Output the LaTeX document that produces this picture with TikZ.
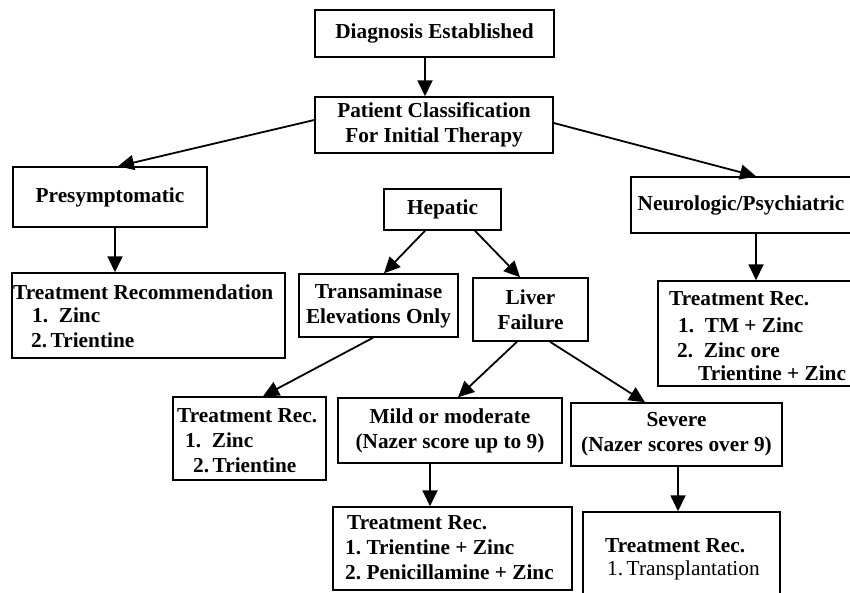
\documentclass[tikz,border=0pt]{standalone}
\usepackage{fontspec}
\setmainfont{Liberation Serif}
\usetikzlibrary{arrows.meta}
\begin{document}
\begin{tikzpicture}[x=1pt,y=-1pt,
  box/.style={draw, line width=1.5pt, inner sep=0pt, align=center, font=\bfseries\fontsize{21.3}{25}\selectfont},
  txt/.style={anchor=base west, inner sep=0pt, font=\bfseries\fontsize{21.3}{25}\selectfont},
  arr/.style={line width=1.8pt, -{Triangle[length=16pt,width=15pt]}},
]
\useasboundingbox (0,0) rectangle (850,592);
\fill[white] (0,0) rectangle (850,592);

% boxes
\node[box, minimum width=239pt, minimum height=47pt] (diag) at (434.5,33.5) {Diagnosis Established};
\node[box, minimum width=238pt, minimum height=56pt] (patient) at (434,125) {Patient Classification\\For Initial Therapy};
\node[box, minimum width=194pt, minimum height=60pt] (presym) at (110,197) {Presymptomatic};
\node[box, minimum width=273pt, minimum height=85pt] (presymT) at (148.5,315.5) {};
\node[box, minimum width=117pt, minimum height=41pt] (hep) at (442.5,209.5) {Hepatic};
\node[box, minimum width=159pt, minimum height=63pt] (trans) at (378.5,305.5) {Transaminase\\Elevations Only};
\node[box, minimum width=115pt, minimum height=63pt] (liver) at (530.5,309.5) {Liver\\Failure};
\node[box, minimum width=220pt, minimum height=56pt] (neuro) at (741,205) {Neurologic/Psychiatric};
\node[box, minimum width=194pt, minimum height=105pt] (neuroT) at (755,333.5) {};
\node[box, minimum width=153pt, minimum height=83pt] (zincT) at (249.5,438.5) {};
\node[box, minimum width=224pt, minimum height=65pt] (mild) at (450,430.5) {Mild or moderate\\(Nazer score up to 9)};
\node[box, minimum width=211pt, minimum height=63pt] (severe) at (676.5,434.5) {Severe\\(Nazer scores over 9)};
\node[box, minimum width=239pt, minimum height=83pt] (mildT) at (452.5,548.5) {};
\node[box, minimum width=197pt, minimum height=88pt] (severeT) at (681.5,556) {};

% list texts
\node[txt] (pt1) at (13,299) {Treatment Recommendation};
\node[txt] (pt2) at (32,322) {1.\ \ Zinc};
\node[txt] (pt3) at (31,347) {2.\,Trientine};

\node[txt] (zt1) at (177,422) {Treatment Rec.};
\node[txt] (zt2) at (185,447) {1.\ \ Zinc};
\node[txt] (zt3) at (193,472) {2.\,Trientine};

\node[txt] (mt1) at (347,529) {Treatment Rec.};
\node[txt] (mt2) at (345,554) {1.\ Trientine + Zinc};
\node[txt] (mt3) at (345,579) {2.\ Penicillamine + Zinc};

\node[txt] (st1) at (605,552) {Treatment Rec.};
\node[txt] (st2) at (607,575) {\mdseries 1.\,Transplantation};

\node[txt] (nt1) at (669,305) {Treatment Rec.};
\node[txt] (nt2) at (678,332) {1.\ \ TM + Zinc};
\node[txt] (nt3) at (677,357) {2.\ \ Zinc ore};
\node[txt] (nt4) at (698,380) {Trientine + Zinc};

% arrows
\draw[arr] ([xshift=-9.5pt]diag.south) -- ([xshift=-9.5pt]diag.south |- patient.north);
\draw[arr] ([yshift=5pt]patient.west) -- ([xshift=8pt]presym.north);
\draw[arr] ([yshift=2pt]patient.east) -- ([xshift=15pt]neuro.north);
\draw[arr] ([xshift=5pt]presym.south) -- ([xshift=5pt]presym.south |- presymT.north);
\draw[arr] ([xshift=-17.5pt]hep.south) -- ([xshift=5.5pt]trans.north);
\draw[arr] ([xshift=32.5pt]hep.south) -- ([xshift=-10.5pt]liver.north);
\draw[arr] ([xshift=-5.5pt]trans.south) -- ([xshift=13.5pt]zincT.north);
\draw[arr] ([xshift=-13.5pt]liver.south) -- ([xshift=8pt]mild.north);
\draw[arr] ([xshift=19.5pt]liver.south) -- ([xshift=-31.5pt]severe.north);
\draw[arr] ([xshift=-20pt]mild.south) -- ([xshift=-20pt]mild.south |- mildT.north);
\draw[arr] ([xshift=1.5pt]severe.south) -- ([xshift=1.5pt]severe.south |- severeT.north);
\draw[arr] ([xshift=15pt]neuro.south) -- ([xshift=15pt]neuro.south |- neuroT.north);
\end{tikzpicture}
\end{document}
